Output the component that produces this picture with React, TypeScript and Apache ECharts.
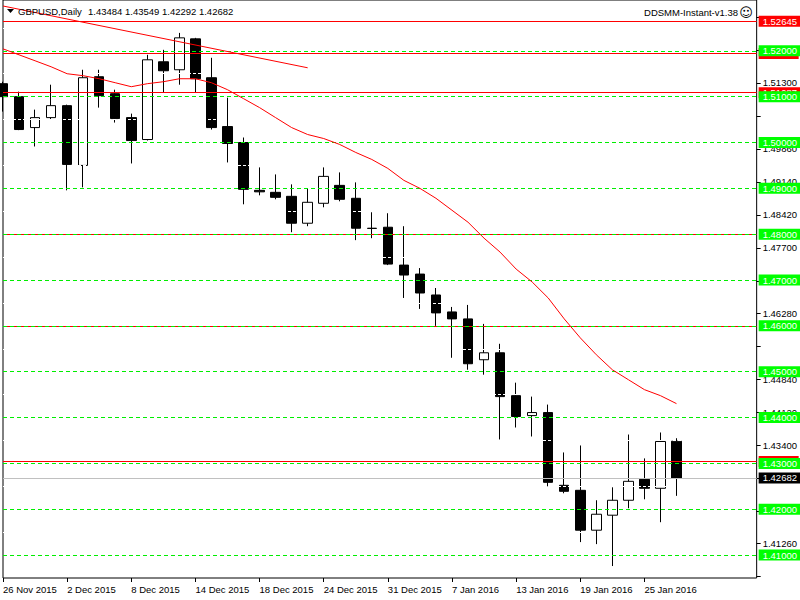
import React, { useEffect, useRef } from 'react';
import * as echarts from 'echarts';

const symbolTitle = 'GBPUSD,Daily';
const indicatorTitle = 'DDSMM-Instant-v1.38';

const dates = [
  '26 Nov 2015', '27 Nov 2015', '30 Nov 2015', '1 Dec 2015', '2 Dec 2015', '3 Dec 2015', '4 Dec 2015',
  '7 Dec 2015', '8 Dec 2015', '9 Dec 2015', '10 Dec 2015', '11 Dec 2015', '14 Dec 2015', '15 Dec 2015',
  '16 Dec 2015', '17 Dec 2015', '18 Dec 2015', '21 Dec 2015', '22 Dec 2015', '23 Dec 2015', '24 Dec 2015',
  '28 Dec 2015', '29 Dec 2015', '30 Dec 2015', '31 Dec 2015', '4 Jan 2016', '5 Jan 2016', '6 Jan 2016',
  '7 Jan 2016', '8 Jan 2016', '11 Jan 2016', '12 Jan 2016', '13 Jan 2016', '14 Jan 2016', '15 Jan 2016',
  '18 Jan 2016', '19 Jan 2016', '20 Jan 2016', '21 Jan 2016', '22 Jan 2016', '25 Jan 2016', '26 Jan 2016',
  '27 Jan 2016',
];
const futureSlots = ['28 Jan 2016', '29 Jan 2016', '1 Feb 2016', '2 Feb 2016', '3 Feb 2016'];

const opens = [
  1.51283, 1.51000, 1.50326, 1.50543, 1.50804, 1.49500, 1.51435, 1.51065, 1.50543, 1.50065,
  1.51761, 1.51587, 1.52261, 1.51413, 1.50348, 1.50000, 1.48957, 1.48913, 1.48826, 1.48239,
  1.48674, 1.49065, 1.48783, 1.48130, 1.48152, 1.47326, 1.47130, 1.46674, 1.46304, 1.46152,
  1.45261, 1.45413, 1.44478, 1.44043, 1.44109, 1.42522, 1.42413, 1.41543, 1.41870, 1.42196,
  1.42652, 1.42457, 1.43484,
];
const closes = [
  1.51000, 1.50283, 1.50543, 1.50804, 1.49522, 1.51413, 1.51022, 1.50522, 1.50043, 1.51804,
  1.51565, 1.52283, 1.51391, 1.50326, 1.49978, 1.48978, 1.48924, 1.48804, 1.48239, 1.48696,
  1.49261, 1.48761, 1.48130, 1.48125, 1.47348, 1.47109, 1.46717, 1.46283, 1.46152, 1.45174,
  1.45413, 1.44457, 1.44022, 1.44109, 1.42587, 1.42391, 1.41543, 1.41891, 1.42196, 1.42609,
  1.42457, 1.43478, 1.42682,
];
const lows = [
  1.50674, 1.50270, 1.49913, 1.50500, 1.48957, 1.49022, 1.50761, 1.50435, 1.49543, 1.50043,
  1.51087, 1.51261, 1.51087, 1.50283, 1.49565, 1.48652, 1.48848, 1.48761, 1.48043, 1.48174,
  1.48587, 1.48717, 1.47870, 1.47913, 1.47326, 1.46609, 1.46370, 1.46000, 1.45304, 1.45043,
  1.44935, 1.43522, 1.43783, 1.43587, 1.42500, 1.42348, 1.41283, 1.41239, 1.40761, 1.42022,
  1.42217, 1.41717, 1.42292,
];
const highs = [
  1.51326, 1.51109, 1.50717, 1.51261, 1.50826, 1.51587, 1.51587, 1.51152, 1.50630, 1.51913,
  1.52022, 1.52391, 1.52283, 1.51848, 1.50978, 1.50109, 1.49457, 1.49304, 1.49087, 1.49000,
  1.49457, 1.49348, 1.49130, 1.48478, 1.48457, 1.48174, 1.47261, 1.46826, 1.46413, 1.46457,
  1.46043, 1.45609, 1.44761, 1.44457, 1.44283, 1.43239, 1.43391, 1.42196, 1.42478, 1.43630,
  1.43109, 1.43674, 1.43549,
];

const movingAverage = [
  1.52043, 1.51913, 1.51783, 1.51652, 1.51500, 1.51457, 1.51391, 1.51304, 1.51217, 1.51283,
  1.51326, 1.51391, 1.51391, 1.51304, 1.51152, 1.50957, 1.50761, 1.50543, 1.50326, 1.50174,
  1.50087, 1.49957, 1.49783, 1.49630, 1.49435, 1.49174, 1.49000, 1.48783, 1.48522, 1.48261,
  1.47913, 1.47609, 1.47239, 1.46957, 1.46609, 1.46152, 1.45739, 1.45370, 1.45043, 1.44826,
  1.44609, 1.44478, 1.44304,
];

const trendStartIndex = 0;
const trendEndIndex = 19;
const trendStartValue = 1.52978;
const trendEndValue = 1.51630;

const greenLevels = [1.52, 1.51, 1.50, 1.49, 1.48, 1.47, 1.46, 1.45, 1.44, 1.43, 1.42, 1.41];
const redLevels = [1.52645, 1.51941, 1.51087, 1.43043];
const redLevelsHiddenText = [1.51941, 1.43043];
const redUnderDashLevels = [1.48, 1.46];
const whiteLevels = [1.525, 1.515, 1.505, 1.495, 1.485, 1.475, 1.465, 1.455, 1.445, 1.435, 1.425, 1.415];
const bidPrice = 1.42682;

const priceTicks = [
  1.5274, 1.5202, 1.5130, 1.5058, 1.4986, 1.4914, 1.4842, 1.4770, 1.4698, 1.4628, 1.4556,
  1.4484, 1.4412, 1.4340, 1.4268, 1.4196, 1.4126, 1.4054,
];
const priceLabels = [1.5130, 1.4986, 1.4914, 1.4842, 1.4770, 1.4628, 1.4484, 1.4412, 1.4340, 1.4126];

const yMin = 1.405;
const yMax = 1.531087;

const FONT = '"Liberation Sans", Arial, sans-serif';
const FS = 9.5;

export default function App() {
  const ref = useRef<HTMLDivElement>(null);

  useEffect(() => {
    if (!ref.current) return;
    const chart = echarts.init(ref.current, undefined, { renderer: 'svg' });
    const categories = [...dates, ...futureSlots];
    const lastIdx = dates.length - 1;
    const showIdx = (i: number) => i % 4 === 0 && i <= lastIdx;

    const levelLabel = (bg: string) => ({
      show: true,
      position: 'end',
      distance: 2,
      formatter: (p: any) => Number(p.value).toFixed(5),
      backgroundColor: bg,
      color: '#ffffff',
      fontFamily: FONT,
      fontSize: FS,
      lineHeight: 11,
      padding: [0, 3, 0, 4],
    });

    const hLines = (values: number[], color: string, type: any, label: any, itemFor?: (v: number) => any) => ({
      silent: true,
      symbol: ['none', 'none'],
      precision: 5,
      animation: false,
      lineStyle: { color, type, width: 1 },
      label,
      data: values.map((v) => (itemFor ? itemFor(v) : { yAxis: v })),
    });

    const option: any = {
      animation: false,
      backgroundColor: '#ffffff',
      grid: {
        left: 2,
        right: 43,
        top: -2,
        bottom: 22,
        show: true,
        borderColor: '#000000',
        borderWidth: 1,
        backgroundColor: 'transparent',
      },
      xAxis: {
        type: 'category',
        data: categories,
        boundaryGap: false,
        axisLine: { show: false },
        axisTick: { show: true, interval: (i: number) => showIdx(i), length: 4, lineStyle: { color: '#000' } },
        axisLabel: {
          interval: (i: number) => showIdx(i),
          align: 'left',
          margin: 6,
          color: '#000',
          fontFamily: FONT,
          fontSize: FS,
        },
        splitLine: { show: false },
      },
      yAxis: {
        type: 'value',
        position: 'right',
        min: yMin,
        max: yMax,
        scale: true,
        axisLine: { show: false },
        axisTick: { show: true, length: 4, customValues: priceTicks, lineStyle: { color: '#000' } },
        axisLabel: {
          customValues: priceLabels,
          formatter: (v: number) => v.toFixed(5),
          margin: 6,
          color: '#000',
          fontFamily: FONT,
          fontSize: FS,
        },
        splitLine: { show: false },
      },
      graphic: [
        { type: 'polygon', shape: { points: [[7, 9], [14, 9], [10.5, 13]] }, style: { fill: '#000' }, z: 100 },
        {
          type: 'text', x: 18, y: 11, z: 100,
          style: { text: symbolTitle, fill: '#000', fontFamily: FONT, fontSize: FS, verticalAlign: 'middle' },
        },
        {
          type: 'text', x: 88, y: 11, z: 100,
          style: {
            text: [opens[lastIdx], highs[lastIdx], lows[lastIdx], closes[lastIdx]].map((v) => v.toFixed(5)).join(' '),
            fill: '#000', fontFamily: FONT, fontSize: FS, verticalAlign: 'middle',
          },
        },
        {
          type: 'text', x: 738, y: 12, z: 100,
          style: { text: indicatorTitle, fill: '#000', fontFamily: FONT, fontSize: FS, align: 'right', verticalAlign: 'middle' },
        },
        {
          type: 'text', x: 746, y: 12, z: 100,
          style: { text: '\u263A', fill: '#000', fontFamily: '"DejaVu Sans"', fontSize: 13, align: 'center', verticalAlign: 'middle' },
        },
      ],
      series: [
        {
          type: 'candlestick',
          name: 'GBPUSD',
          data: dates.map((_, i) => [opens[i], closes[i], lows[i], highs[i]]),
          barWidth: 10,
          clip: true,
          itemStyle: {
            color: '#ffffff',
            color0: '#000000',
            borderColor: '#000000',
            borderColor0: '#000000',
            borderColorDoji: '#000000',
            borderWidth: 1,
          },
          z: 2,
        },
        {
          type: 'line', name: 'red levels', data: [], z: 3,
          markLine: hLines(redLevels, '#ff0000', 'solid', levelLabel('#ff0000'), (v) =>
            redLevelsHiddenText.includes(v)
              ? {
                  yAxis: v,
                  label: {
                    formatter: '{box|}',
                    backgroundColor: 'transparent',
                    padding: 0,
                    rich: { box: { width: 40, height: 11, backgroundColor: '#ff0000' } },
                  },
                }
              : { yAxis: v }
          ),
        },
        {
          type: 'line', name: 'red under dashes', data: [], z: 3,
          markLine: hLines(redUnderDashLevels, '#ff0000', 'solid', { show: false }),
        },
        {
          type: 'line', name: 'bid', data: [], z: 3,
          markLine: hLines([bidPrice], '#c0c0c0', 'solid', levelLabel('#000000')),
        },
        {
          type: 'line', name: 'white levels', data: [], z: 4,
          markLine: hLines(whiteLevels, '#ffffff', [3, 2], { show: false }),
        },
        {
          type: 'line', name: 'green levels', data: [], z: 5,
          markLine: hLines(greenLevels, '#00ee00', [4, 3], levelLabel('#00ff00')),
        },
        {
          type: 'line',
          name: 'MA',
          data: movingAverage,
          symbol: 'none',
          showSymbol: false,
          lineStyle: { color: '#ff0000', width: 1 },
          z: 6,
          markLine: {
            silent: true,
            symbol: ['none', 'none'],
            precision: 5,
            animation: false,
            lineStyle: { color: '#ff0000', type: 'solid', width: 1 },
            label: { show: false },
            data: [[
              { coord: [trendStartIndex, trendStartValue] },
              { coord: [trendEndIndex, trendEndValue] },
            ]],
          },
        },
      ],
    };

    chart.setOption(option);
    return () => chart.dispose();
  }, []);

  return (
    <div
      ref={ref}
      style={{ position: 'absolute', left: 0, top: 0, width: 800, height: 600, background: '#fff' }}
    />
  );
}
